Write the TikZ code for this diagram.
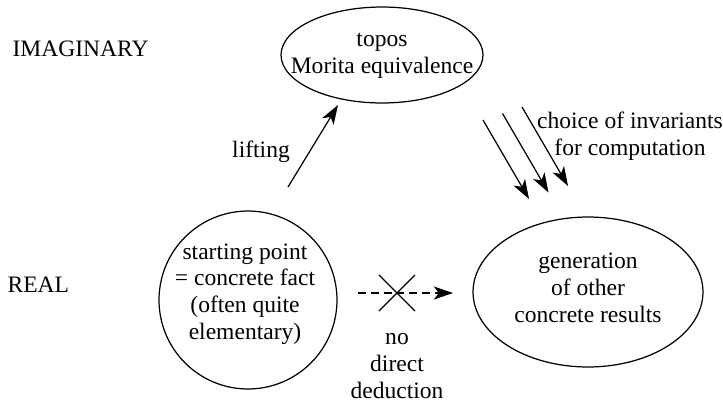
\documentclass[tikz,border=0pt]{standalone}
\usepackage{fontspec}
\setmainfont{Liberation Serif}
\usetikzlibrary{arrows.meta,shapes.geometric}

\begin{document}
\begin{tikzpicture}[x=0.02cm, y=-0.02cm,
  line width=0.7pt, font=\rmfamily\fontsize{13.4}{15.2}\selectfont,
  arr/.style={-{Stealth[length=11pt,width=7.5pt,inset=3pt]}},
  oval/.style={draw, ellipse, inner sep=0pt},
  txt/.style={align=center},
  side/.style={anchor=west, inner sep=0pt}]
\useasboundingbox (0,0) rectangle (723,403);
\begin{scope}
  \node[oval, minimum width=4.04cm, minimum height=1.92cm] (topos) at (382,55) {};
  \node[txt] (toposT) at (382,56) {topos\\Morita equivalence};
  \node[draw, circle, minimum size=3.56cm, inner sep=0pt] (fact) at (248,300) {};
  \node[txt] (factT) at (245,294) {starting point\\= concrete fact\\(often quite\\elementary)};
  \node[oval, minimum width=4.6cm, minimum height=3cm] (results) at (588,292) {};
  \node[txt] (resultsT) at (588,288) {generation\\of other\\concrete results};
  \node[side] (imag) at (12,49) {IMAGINARY};
  \node[side] (real) at (7,285) {REAL};
  \node (lift) at (261,152) {lifting};
  \node[txt] (choice) at (630,136) {choice of invariants\\for computation};
  \node[txt] (nodir) at (397,366) {no\\direct\\deduction};

  \coordinate (liftA) at (288,187);
  \coordinate (liftB) at (338,105);
  \draw[arr] (liftA) -- (liftB);
  \foreach \i in {0,1,2}
     { \draw[arr] (483+19.5*\i,120-6.5*\i) -- ++(46,79);
     }
  \coordinate (dashA) at (358,293);
  \coordinate (dashB) at (453,293);
  \draw[arr, dash pattern=on 4.5pt off 2.8pt] (dashA) -- (dashB);
  \coordinate (cross) at (397,293);
  \draw (cross) ++(-18,-18) -- ++(36,36) (cross) ++(-18,18) -- ++(36,-36);
\end{scope}
\end{tikzpicture}
\end{document}
